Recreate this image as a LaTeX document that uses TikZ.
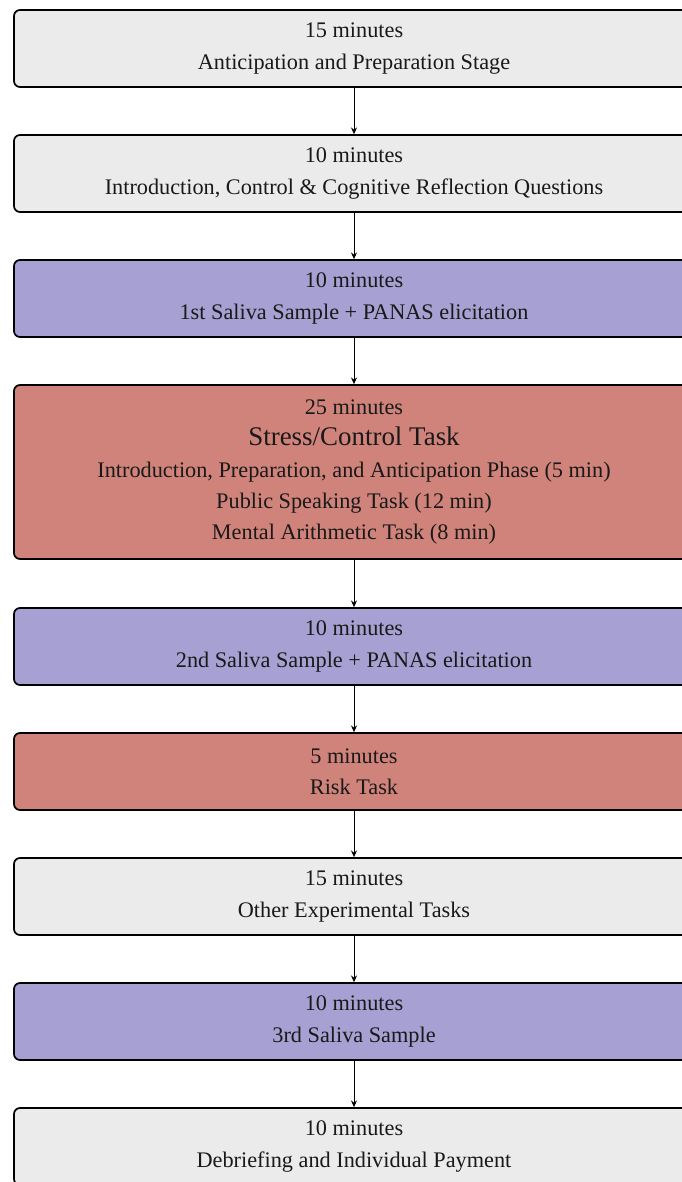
\documentclass[tikz,border=0pt]{standalone}
\usepackage{fontspec}
\setmainfont{Liberation Serif}
\usetikzlibrary{arrows.meta}
\definecolor{boxgray}{HTML}{EBEBEB}
\definecolor{boxblue}{HTML}{A7A0D2}
\definecolor{boxred}{HTML}{D0837A}
\tikzset{
  stage/.style={draw=black, line width=1.3pt, rounded corners=4.5pt, minimum width=510pt,
    minimum height=57.75pt, inner sep=0pt, align=center,
    font=\fontsize{16.7}{23.5}\selectfont, text=black!90},
  flow/.style={-{Stealth[length=5pt,width=4.5pt]}, line width=0.75pt},
}
\begin{document}
\begin{tikzpicture}[x=0.75pt,y=-0.75pt]
\useasboundingbox (0,0) rectangle (682,1182);
\node[stage, fill=boxgray] (b1) at (354,48.5) {15 minutes\\Anticipation and Preparation Stage};
\node[stage, fill=boxgray] (b2) at (354,173.5) {10 minutes\\Introduction, Control \& Cognitive Reflection Questions};
\node[stage, fill=boxblue] (b3) at (354,298.5) {10 minutes\\1st Saliva Sample + PANAS elicitation};
\node[stage, fill=boxred, minimum height=130.5pt] (b4) at (354,472) {25 minutes\\{\fontsize{20.2}{23.5}\selectfont Stress/Control Task}\\Introduction, Preparation, and Anticipation Phase (5 min)\\Public Speaking Task (12 min)\\Mental Arithmetic Task (8 min)};
\node[stage, fill=boxblue] (b5) at (354,646.5) {10 minutes\\2nd Saliva Sample + PANAS elicitation};
\node[stage, fill=boxred] (b6) at (354,771.5) {5 minutes\\Risk Task};
\node[stage, fill=boxgray] (b7) at (354,896.5) {15 minutes\\Other Experimental Tasks};
\node[stage, fill=boxblue] (b8) at (354,1021.5) {10 minutes\\3rd Saliva Sample};
\node[stage, fill=boxgray] (b9) at (354,1146.5) {10 minutes\\Debriefing and Individual Payment};
\foreach \a/\b in {b1/b2,b2/b3,b3/b4,b4/b5,b5/b6,b6/b7,b7/b8,b8/b9}
  \draw[flow] (\a) -- (\b);
\end{tikzpicture}
\end{document}
